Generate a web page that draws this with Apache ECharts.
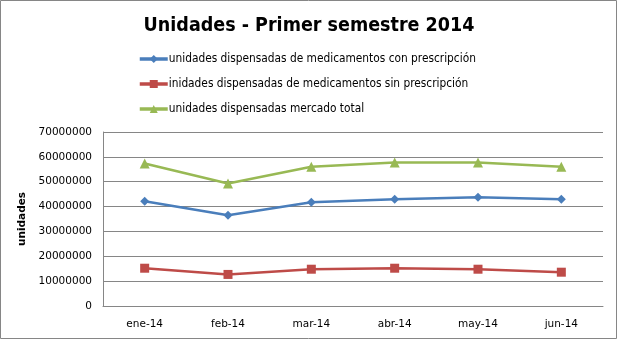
<!DOCTYPE html>
<html><head><meta charset="utf-8">
<script src="https://cdn.jsdelivr.net/npm/echarts@6/dist/echarts.min.js"></script>
<style>html,body{margin:0;padding:0;background:#fff}#c{width:618px;height:340px}</style>
</head><body><div id="c"></div>
<script>
var categories = ['ene-14','feb-14','mar-14','abr-14','may-14','jun-14'];
var conPrescripcion = [42100000, 36500000, 41700000, 42900000, 43700000, 42900000];
var sinPrescripcion = [15200000, 12700000, 14800000, 15200000, 14800000, 13600000];
var mercadoTotal = [57300000, 49300000, 56000000, 57700000, 57700000, 56000000];
var yMin = 0, yMax = 70000000, yStep = 10000000;
var seriesNames = ['unidades dispensadas de medicamentos con prescripción','inidades dispensadas de medicamentos sin prescripción','unidades dispensadas mercado total'];

var chart = echarts.init(document.getElementById('c'));
var lbl = {fontFamily:'DejaVu Sans', fontSize:10.5, color:'#000'};
chart.setOption({
  animation:false,
  backgroundColor:'#fff',
  title:{text:'Unidades - Primer semestre 2014', left:'center', top:11,
    textStyle:{fontFamily:'DejaVu Sans Condensed', fontWeight:'bold', fontSize:19.5, color:'#000'}},
  legend:{orient:'vertical', left:133, top:48, itemGap:13, itemWidth:28, itemHeight:10,
    lineStyle:{width:3.5},
    textStyle:{fontFamily:'DejaVu Sans Condensed', fontSize:11.8, color:'#000', padding:[0,0,0,-4]},
    data:seriesNames},
  grid:{left:103, right:15, top:132, bottom:34},
  xAxis:{type:'category', data:categories, boundaryGap:true,
    axisLine:{lineStyle:{color:'#868686', width:1}}, axisTick:{show:false},
    axisLabel:Object.assign({margin:13}, lbl)},
  yAxis:{type:'value', min:yMin, max:yMax, interval:yStep,
    name:'unidades', nameLocation:'middle', nameGap:62, nameRotate:90,
    nameTextStyle:{fontFamily:'DejaVu Sans', fontWeight:'bold', fontSize:10.5, color:'#000'},
    axisLine:{show:true, lineStyle:{color:'#868686'}}, axisTick:{show:false},
    splitLine:{lineStyle:{color:'#868686', width:1}},
    axisLabel:Object.assign({margin:11, formatter:function(v){return String(v);}}, lbl)},
  series:[
    {name:seriesNames[0], type:'line', data:conPrescripcion, symbol:'diamond', symbolSize:9,
     itemStyle:{color:'#4A7EBB'}, lineStyle:{width:2.5, color:'#4A7EBB'}},
    {name:seriesNames[1], type:'line', data:sinPrescripcion, symbol:'rect', symbolSize:9,
     itemStyle:{color:'#BE4B48'}, lineStyle:{width:2.5, color:'#BE4B48'}},
    {name:seriesNames[2], type:'line', data:mercadoTotal, symbol:'triangle', symbolSize:10,
     itemStyle:{color:'#98B954'}, lineStyle:{width:2.5, color:'#98B954'}}
  ],
  graphic:[{type:'rect', shape:{x:0.5, y:0.5, width:616, height:338}, style:{fill:null, stroke:'#868686', lineWidth:1}, silent:true}]
});
</script></body></html>
